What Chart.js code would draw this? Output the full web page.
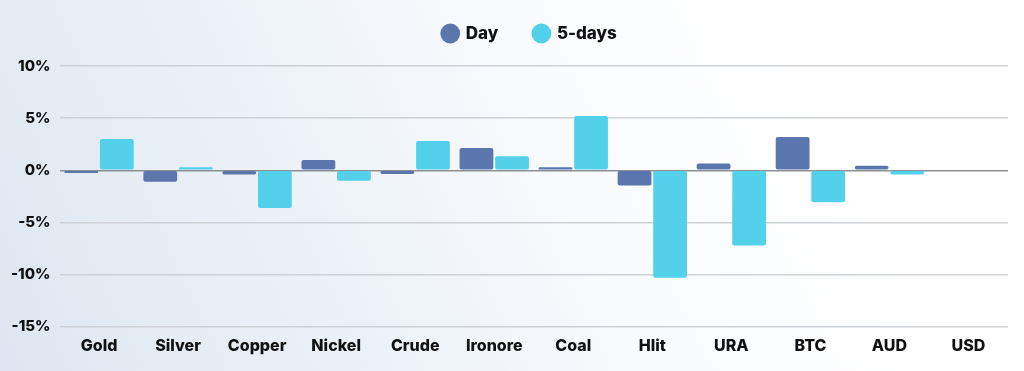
<!DOCTYPE html>
<html>
<head>
<meta charset="utf-8">
<script src="https://cdn.jsdelivr.net/npm/chart.js@4"></script>
<style>
  html, body { margin: 0; padding: 0; }
  body {
    width: 1024px; height: 371px; overflow: hidden;
    background: linear-gradient(65deg, #dde6f0 0%, #eef3f8 35%, #fbfcfe 60%, #ffffff 80%);
  }
  #wrap { position: relative; width: 1024px; height: 371px; }
</style>
</head>
<body>
<div id="wrap"><canvas id="chart"></canvas></div>
<script>
// categories and series
const categories = ["Gold", "Silver", "Copper", "Nickel", "Crude", "Ironore", "Coal", "Hlit", "URA", "BTC", "AUD", "USD"];
const dayValues = [-0.25, -1.1, -0.4, 1.0, -0.35, 2.15, 0.3, -1.45, 0.65, 3.2, 0.45, 0];
const fiveDayValues = [3.0, 0.3, -3.6, -1.0, 2.8, 1.35, 5.2, -10.3, -7.2, -3.05, -0.4, 0];
const yTicks = [-15, -10, -5, 0, 5, 10];

const font = "Inter, 'DejaVu Sans', sans-serif";

// legend: fixed block height, nudged a bit right of centre like the original
const legendTweak = {
  id: "legendTweak",
  beforeInit(chart) {
    const fit = chart.legend.fit;
    chart.legend.fit = function () {
      fit.bind(chart.legend)();
      this.height = 66;
    };
  },
  afterLayout(chart) {
    chart.legend.left += 25;
    chart.legend.right += 25;
  },
};

new Chart(document.getElementById("chart"), {
  type: "bar",
  data: {
    labels: categories,
    datasets: [
      {
        label: "Day",
        data: dayValues,
        backgroundColor: "#5a76ad",
        borderRadius: 2,
        borderSkipped: false,
        categoryPercentage: 0.9,
        barPercentage: 0.95,
      },
      {
        label: "5-days",
        data: fiveDayValues,
        backgroundColor: "#53d1ea",
        borderRadius: 2,
        borderSkipped: false,
        categoryPercentage: 0.9,
        barPercentage: 0.95,
      },
    ],
  },
  plugins: [legendTweak],
  options: {
    responsive: true,
    maintainAspectRatio: false,
    animation: false,
    layout: { padding: { left: 2, right: 16, top: 0, bottom: 5 } },
    plugins: {
      legend: {
        position: "top",
        labels: {
          usePointStyle: true,
          pointStyle: "circle",
          boxWidth: 14,
          boxHeight: 14,
          padding: 25,
          color: "#111",
          font: { family: font, size: 17, weight: "800" },
          generateLabels: (chart) =>
            Chart.defaults.plugins.legend.labels.generateLabels(chart).map((item, i) => {
              // a little extra room after the first entry
              if (i === 0) item.text = item.text + "   ";
              return item;
            }),
        },
      },
      tooltip: { enabled: false },
    },
    scales: {
      x: {
        grid: { display: false, drawTicks: false },
        border: { display: false },
        ticks: {
          color: "#111",
          padding: 10,
          font: { family: font, size: 16, weight: "800" },
        },
      },
      y: {
        min: yTicks[0],
        max: yTicks[yTicks.length - 1],
        afterBuildTicks: (axis) => { axis.ticks = yTicks.map((v) => ({ value: v })); },
        grid: {
          drawTicks: false,
          lineWidth: 1.5,
          color: (ctx) => (ctx.tick && ctx.tick.value === 0 ? "#8c8f94" : "#cdd1d6"),
        },
        border: { display: false },
        ticks: {
          color: "#111",
          padding: 9,
          font: { family: font, size: 15, weight: "800" },
          callback: (v) => v + "%",
        },
      },
    },
  },
});
</script>
</body>
</html>
